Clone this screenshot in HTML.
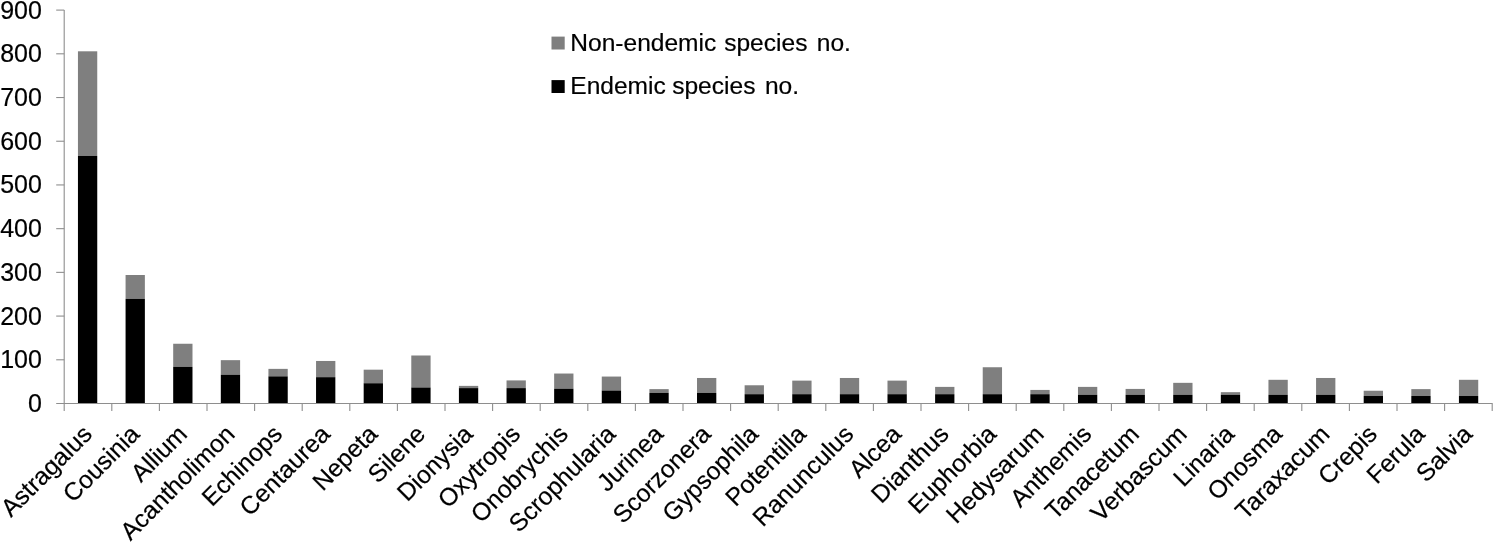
<!DOCTYPE html>
<html lang="en">
<head>
<meta charset="utf-8">
<title>Endemic and non-endemic species numbers by genus</title>
<style>
html,body{margin:0;padding:0;background:#fff;}
body{width:1493px;height:543px;overflow:hidden;}
svg{display:block;font-family:"Liberation Sans",Arial,sans-serif;fill:#000;}
</style>
</head>
<body>
<svg width="1493" height="543" viewBox="0 0 1493 543">
<rect x="0" y="0" width="1493" height="543" fill="#fff"/>
<g shape-rendering="geometricPrecision">
<rect x="77.95" y="51.30" width="19.3" height="104.65" fill="#7f7f7f"/><rect x="77.95" y="155.95" width="19.3" height="247.55" fill="#000"/>
<rect x="125.57" y="275.00" width="19.3" height="23.90" fill="#7f7f7f"/><rect x="125.57" y="298.90" width="19.3" height="104.60" fill="#000"/>
<rect x="173.19" y="343.75" width="19.3" height="23.09" fill="#7f7f7f"/><rect x="173.19" y="366.84" width="19.3" height="36.66" fill="#000"/>
<rect x="220.81" y="360.16" width="19.3" height="14.58" fill="#7f7f7f"/><rect x="220.81" y="374.74" width="19.3" height="28.76" fill="#000"/>
<rect x="268.43" y="368.87" width="19.3" height="7.49" fill="#7f7f7f"/><rect x="268.43" y="376.36" width="19.3" height="27.14" fill="#000"/>
<rect x="316.05" y="360.97" width="19.3" height="16.20" fill="#7f7f7f"/><rect x="316.05" y="377.17" width="19.3" height="26.33" fill="#000"/>
<rect x="363.67" y="369.68" width="19.3" height="13.57" fill="#7f7f7f"/><rect x="363.67" y="383.25" width="19.3" height="20.25" fill="#000"/>
<rect x="411.29" y="355.50" width="19.3" height="32.00" fill="#7f7f7f"/><rect x="411.29" y="387.50" width="19.3" height="16.00" fill="#000"/>
<rect x="458.91" y="385.88" width="19.3" height="2.23" fill="#7f7f7f"/><rect x="458.91" y="388.11" width="19.3" height="15.39" fill="#000"/>
<rect x="506.53" y="380.41" width="19.3" height="7.70" fill="#7f7f7f"/><rect x="506.53" y="388.11" width="19.3" height="15.39" fill="#000"/>
<rect x="554.15" y="373.53" width="19.3" height="15.19" fill="#7f7f7f"/><rect x="554.15" y="388.72" width="19.3" height="14.78" fill="#000"/>
<rect x="601.77" y="376.56" width="19.3" height="13.98" fill="#7f7f7f"/><rect x="601.77" y="390.54" width="19.3" height="12.96" fill="#000"/>
<rect x="649.39" y="389.12" width="19.3" height="3.85" fill="#7f7f7f"/><rect x="649.39" y="392.97" width="19.3" height="10.53" fill="#000"/>
<rect x="697.01" y="377.98" width="19.3" height="14.99" fill="#7f7f7f"/><rect x="697.01" y="392.97" width="19.3" height="10.53" fill="#000"/>
<rect x="744.63" y="385.27" width="19.3" height="8.91" fill="#7f7f7f"/><rect x="744.63" y="394.19" width="19.3" height="9.31" fill="#000"/>
<rect x="792.25" y="380.62" width="19.3" height="13.57" fill="#7f7f7f"/><rect x="792.25" y="394.19" width="19.3" height="9.31" fill="#000"/>
<rect x="839.87" y="377.98" width="19.3" height="16.20" fill="#7f7f7f"/><rect x="839.87" y="394.19" width="19.3" height="9.31" fill="#000"/>
<rect x="887.49" y="380.62" width="19.3" height="13.57" fill="#7f7f7f"/><rect x="887.49" y="394.19" width="19.3" height="9.31" fill="#000"/>
<rect x="935.11" y="386.89" width="19.3" height="7.29" fill="#7f7f7f"/><rect x="935.11" y="394.19" width="19.3" height="9.31" fill="#000"/>
<rect x="982.73" y="367.25" width="19.3" height="26.94" fill="#7f7f7f"/><rect x="982.73" y="394.19" width="19.3" height="9.31" fill="#000"/>
<rect x="1030.35" y="389.93" width="19.3" height="4.25" fill="#7f7f7f"/><rect x="1030.35" y="394.19" width="19.3" height="9.31" fill="#000"/>
<rect x="1077.97" y="386.89" width="19.3" height="7.90" fill="#7f7f7f"/><rect x="1077.97" y="394.79" width="19.3" height="8.71" fill="#000"/>
<rect x="1125.59" y="388.92" width="19.3" height="5.87" fill="#7f7f7f"/><rect x="1125.59" y="394.79" width="19.3" height="8.71" fill="#000"/>
<rect x="1173.21" y="382.84" width="19.3" height="11.95" fill="#7f7f7f"/><rect x="1173.21" y="394.79" width="19.3" height="8.71" fill="#000"/>
<rect x="1220.83" y="392.16" width="19.3" height="2.63" fill="#7f7f7f"/><rect x="1220.83" y="394.79" width="19.3" height="8.71" fill="#000"/>
<rect x="1268.45" y="379.81" width="19.3" height="14.99" fill="#7f7f7f"/><rect x="1268.45" y="394.79" width="19.3" height="8.71" fill="#000"/>
<rect x="1316.07" y="377.98" width="19.3" height="16.81" fill="#7f7f7f"/><rect x="1316.07" y="394.79" width="19.3" height="8.71" fill="#000"/>
<rect x="1363.69" y="390.74" width="19.3" height="5.27" fill="#7f7f7f"/><rect x="1363.69" y="396.01" width="19.3" height="7.49" fill="#000"/>
<rect x="1411.31" y="389.12" width="19.3" height="6.89" fill="#7f7f7f"/><rect x="1411.31" y="396.01" width="19.3" height="7.49" fill="#000"/>
<rect x="1458.93" y="379.81" width="19.3" height="16.20" fill="#7f7f7f"/><rect x="1458.93" y="396.01" width="19.3" height="7.49" fill="#000"/>
</g>
<g stroke="#8e8e8e" stroke-width="1.1" fill="none">
<line x1="64.2" y1="10.1" x2="64.2" y2="411.0"/>
<line x1="56.2" y1="403.5" x2="1492.6" y2="403.5"/>
<line x1="56.2" y1="359.79" x2="64.2" y2="359.79"/>
<line x1="56.2" y1="316.08" x2="64.2" y2="316.08"/>
<line x1="56.2" y1="272.37" x2="64.2" y2="272.37"/>
<line x1="56.2" y1="228.66" x2="64.2" y2="228.66"/>
<line x1="56.2" y1="184.94" x2="64.2" y2="184.94"/>
<line x1="56.2" y1="141.23" x2="64.2" y2="141.23"/>
<line x1="56.2" y1="97.52" x2="64.2" y2="97.52"/>
<line x1="56.2" y1="53.81" x2="64.2" y2="53.81"/>
<line x1="56.2" y1="10.10" x2="64.2" y2="10.10"/>
<line x1="111.80" y1="403.5" x2="111.80" y2="411.0"/>
<line x1="159.40" y1="403.5" x2="159.40" y2="411.0"/>
<line x1="207.00" y1="403.5" x2="207.00" y2="411.0"/>
<line x1="254.60" y1="403.5" x2="254.60" y2="411.0"/>
<line x1="302.20" y1="403.5" x2="302.20" y2="411.0"/>
<line x1="349.80" y1="403.5" x2="349.80" y2="411.0"/>
<line x1="397.40" y1="403.5" x2="397.40" y2="411.0"/>
<line x1="445.00" y1="403.5" x2="445.00" y2="411.0"/>
<line x1="492.60" y1="403.5" x2="492.60" y2="411.0"/>
<line x1="540.20" y1="403.5" x2="540.20" y2="411.0"/>
<line x1="587.80" y1="403.5" x2="587.80" y2="411.0"/>
<line x1="635.40" y1="403.5" x2="635.40" y2="411.0"/>
<line x1="683.00" y1="403.5" x2="683.00" y2="411.0"/>
<line x1="730.60" y1="403.5" x2="730.60" y2="411.0"/>
<line x1="778.20" y1="403.5" x2="778.20" y2="411.0"/>
<line x1="825.80" y1="403.5" x2="825.80" y2="411.0"/>
<line x1="873.40" y1="403.5" x2="873.40" y2="411.0"/>
<line x1="921.00" y1="403.5" x2="921.00" y2="411.0"/>
<line x1="968.60" y1="403.5" x2="968.60" y2="411.0"/>
<line x1="1016.20" y1="403.5" x2="1016.20" y2="411.0"/>
<line x1="1063.80" y1="403.5" x2="1063.80" y2="411.0"/>
<line x1="1111.40" y1="403.5" x2="1111.40" y2="411.0"/>
<line x1="1159.00" y1="403.5" x2="1159.00" y2="411.0"/>
<line x1="1206.60" y1="403.5" x2="1206.60" y2="411.0"/>
<line x1="1254.20" y1="403.5" x2="1254.20" y2="411.0"/>
<line x1="1301.80" y1="403.5" x2="1301.80" y2="411.0"/>
<line x1="1349.40" y1="403.5" x2="1349.40" y2="411.0"/>
<line x1="1397.00" y1="403.5" x2="1397.00" y2="411.0"/>
<line x1="1444.60" y1="403.5" x2="1444.60" y2="411.0"/>
<line x1="1492.20" y1="403.5" x2="1492.20" y2="411.0"/>
</g>
<g font-size="25" text-anchor="end" stroke="#000" stroke-width="0.2">
<text x="41.9" y="412.05">0</text>
<text x="41.9" y="368.34">100</text>
<text x="41.9" y="324.63">200</text>
<text x="41.9" y="280.92">300</text>
<text x="41.9" y="237.21">400</text>
<text x="41.9" y="193.49">500</text>
<text x="41.9" y="149.78">600</text>
<text x="41.9" y="106.07">700</text>
<text x="41.9" y="62.36">800</text>
<text x="41.9" y="18.65">900</text>
</g>
<rect x="551.5" y="36.6" width="13.2" height="12.9" fill="#7f7f7f"/>
<rect x="551.5" y="80.1" width="13.2" height="12.9" fill="#000"/>
<g font-size="24.55" stroke="#000" stroke-width="0.2">
<text y="50.9"><tspan x="570.3">Non-endemic</tspan> <tspan x="724.2">species</tspan> <tspan x="816.8">no.</tspan></text>
<text y="94.3"><tspan x="570.3">Endemic</tspan> <tspan x="672.2">species</tspan> <tspan x="764.9">no.</tspan></text>
</g>
<g font-size="24.7" text-anchor="end" stroke="#000" stroke-width="0.2">
<text transform="translate(93.40 435.6) rotate(-45)">Astragalus</text>
<text transform="translate(141.00 435.6) rotate(-45)">Cousinia</text>
<text transform="translate(188.60 435.6) rotate(-45)">Allium</text>
<text transform="translate(236.20 435.6) rotate(-45)">Acantholimon</text>
<text transform="translate(283.80 435.6) rotate(-45)">Echinops</text>
<text transform="translate(331.40 435.6) rotate(-45)">Centaurea</text>
<text transform="translate(379.00 435.6) rotate(-45)">Nepeta</text>
<text transform="translate(426.60 435.6) rotate(-45)">Silene</text>
<text transform="translate(474.20 435.6) rotate(-45)">Dionysia</text>
<text transform="translate(521.80 435.6) rotate(-45)">Oxytropis</text>
<text transform="translate(569.40 435.6) rotate(-45)">Onobrychis</text>
<text transform="translate(617.00 435.6) rotate(-45)">Scrophularia</text>
<text transform="translate(664.60 435.6) rotate(-45)">Jurinea</text>
<text transform="translate(712.20 435.6) rotate(-45)">Scorzonera</text>
<text transform="translate(759.80 435.6) rotate(-45)">Gypsophila</text>
<text transform="translate(807.40 435.6) rotate(-45)">Potentilla</text>
<text transform="translate(855.00 435.6) rotate(-45)">Ranunculus</text>
<text transform="translate(902.60 435.6) rotate(-45)">Alcea</text>
<text transform="translate(950.20 435.6) rotate(-45)">Dianthus</text>
<text transform="translate(997.80 435.6) rotate(-45)">Euphorbia</text>
<text transform="translate(1045.40 435.6) rotate(-45)">Hedysarum</text>
<text transform="translate(1093.00 435.6) rotate(-45)">Anthemis</text>
<text transform="translate(1140.60 435.6) rotate(-45)">Tanacetum</text>
<text transform="translate(1188.20 435.6) rotate(-45)">Verbascum</text>
<text transform="translate(1235.80 435.6) rotate(-45)">Linaria</text>
<text transform="translate(1283.40 435.6) rotate(-45)">Onosma</text>
<text transform="translate(1331.00 435.6) rotate(-45)">Taraxacum</text>
<text transform="translate(1378.60 435.6) rotate(-45)">Crepis</text>
<text transform="translate(1426.20 435.6) rotate(-45)">Ferula</text>
<text transform="translate(1473.80 435.6) rotate(-45)">Salvia</text>
</g>
</svg>
</body>
</html>
